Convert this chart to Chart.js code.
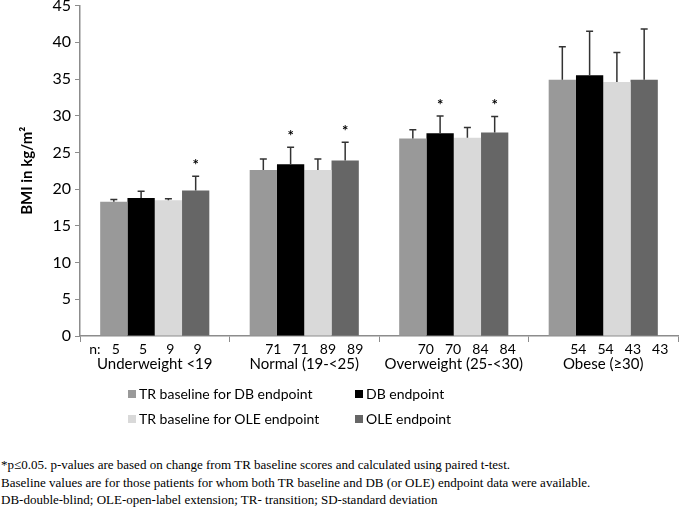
<!DOCTYPE html>
<html>
<head>
<meta charset="utf-8">
<script src="https://cdn.jsdelivr.net/npm/chart.js@4.4.0/dist/chart.umd.min.js"></script>
<style>
    body { margin: 0; background: #fff; }
    #wrap { position: relative; width: 685px; height: 514px; overflow: hidden; background: #fff; }
    #chart { position: absolute; left: 0; top: -8px; }
    .legend-item { position: absolute; font-family: Lato, "Open Sans", sans-serif; font-size: 14px; line-height: 16px; color: #000; white-space: nowrap; }
    .legend-item .box { display: inline-block; width: 8px; height: 8px; margin-right: 3px; vertical-align: 1px; }
    #notes { position: absolute; left: 1px; top: 456px; font-family: "Liberation Serif", "Times New Roman", serif; font-size: 13px; line-height: 17.5px; color: #000; white-space: nowrap; }
</style>
</head>
<body>
<div id="wrap">
    <canvas id="chart" width="685" height="394"></canvas>
    <div id="legend"></div>
    <div id="notes">
        *p&le;0.05. p-values are based on change from TR baseline scores and calculated using paired t-test.<br>
        Baseline values are for those patients for whom both TR baseline and DB (or OLE) endpoint data were available.<br>
        DB-double-blind; OLE-open-label extension; TR- transition; SD-standard deviation
    </div>
</div>
<script>
"use strict";

// BMI categories
var categories = ['Underweight <19', 'Normal (19-<25)', 'Overweight (25-<30)', 'Obese (\u226530)'];
var seriesNames = ['TR baseline for DB endpoint', 'DB endpoint', 'TR baseline for OLE endpoint', 'OLE endpoint'];
var seriesColors = ['#999999', '#000000', '#d9d9d9', '#666666'];

// mean BMI (kg/m2)
var trBaselineDb = [18.3, 22.6, 26.9, 34.9];
var dbEndpoint = [18.8, 23.4, 27.6, 35.5];
var trBaselineOle = [18.5, 22.6, 27.0, 34.6];
var oleEndpoint = [19.8, 23.9, 27.7, 34.9];

// SD (upper error bar only)
var sdTrBaselineDb = [0.3, 1.5, 1.2, 4.5];
var sdDbEndpoint = [0.9, 2.3, 2.35, 6.0];
var sdTrBaselineOle = [0.2, 1.5, 1.4, 4.0];
var sdOleEndpoint = [1.95, 2.5, 2.2, 6.9];

// patient counts
var nTrBaselineDb = [5, 71, 70, 54];
var nDbEndpoint = [5, 71, 70, 54];
var nTrBaselineOle = [9, 89, 84, 43];
var nOleEndpoint = [9, 89, 84, 43];

// p<=0.05 markers
var sigTrBaselineDb = [false, false, false, false];
var sigDbEndpoint = [false, true, true, false];
var sigTrBaselineOle = [false, false, false, false];
var sigOleEndpoint = [true, true, true, false];

var yTicks = [0, 5, 10, 15, 20, 25, 30, 35, 40, 45];

// the n: row in the original is typed text, drifting right a bit per group
var nShift = [2, 10, 13, 16];

var values = [trBaselineDb, dbEndpoint, trBaselineOle, oleEndpoint];
var sds = [sdTrBaselineDb, sdDbEndpoint, sdTrBaselineOle, sdOleEndpoint];
var counts = [nTrBaselineDb, nDbEndpoint, nTrBaselineOle, nOleEndpoint];
var sigs = [sigTrBaselineDb, sigDbEndpoint, sigTrBaselineOle, sigOleEndpoint];

var AXIS_COLOR = '#8c8c8c';

var errorBarPlugin = {
    id: 'errorBars',
    afterDatasetsDraw: function (chart) {
        var ctx = chart.ctx;
        var yScale = chart.scales.y;
        var bottom = chart.chartArea.bottom;
        ctx.save();
        chart.data.datasets.forEach(function (ds, i) {
            var meta = chart.getDatasetMeta(i);
            meta.data.forEach(function (bar, j) {
                var top = yScale.getPixelForValue(ds.data[j] + ds.sd[j]);
                ctx.strokeStyle = '#333333';
                ctx.lineWidth = 1.5;
                ctx.beginPath();
                ctx.moveTo(bar.x, bar.y);
                ctx.lineTo(bar.x, top);
                ctx.moveTo(bar.x - 3.5, top);
                ctx.lineTo(bar.x + 3.5, top);
                ctx.stroke();

                ctx.fillStyle = '#000';
                ctx.textAlign = 'center';
                ctx.textBaseline = 'middle';
                if (ds.sig[j]) {
                    ctx.font = 'bold 15px Lato, sans-serif';
                    ctx.fillText('*', bar.x, top - 11);
                }
                ctx.font = '14px Lato, sans-serif';
                ctx.fillText(String(ds.n[j]), bar.x + nShift[j], bottom + 13);
                if (i === 0 && j === 0) {
                    ctx.fillText('n:', bar.x - 19, bottom + 13);
                }
            });
        });
        ctx.restore();
    }
};

function buildLegend() {
    var el = document.getElementById('legend');
    var pos = [[128, 386], [355, 386], [128, 411], [355, 411]];
    seriesNames.forEach(function (name, i) {
        var item = document.createElement('div');
        item.className = 'legend-item';
        item.style.left = pos[i][0] + 'px';
        item.style.top = pos[i][1] + 'px';
        item.innerHTML = '<span class="box" style="background:' + seriesColors[i] + '"></span>' + name;
        el.appendChild(item);
    });
}

function renderChart() {
    var datasets = seriesNames.map(function (name, i) {
        return {
            label: name,
            data: values[i],
            sd: sds[i],
            n: counts[i],
            sig: sigs[i],
            backgroundColor: seriesColors[i],
            borderWidth: 0,
            categoryPercentage: 0.73,
            barPercentage: 1.0
        };
    });

    new Chart(document.getElementById('chart'), {
        type: 'bar',
        data: { labels: categories, datasets: datasets },
        plugins: [errorBarPlugin],
        options: {
            responsive: false,
            animation: false,
            layout: { padding: { top: 0, right: 7, bottom: 0, left: 0 } },
            plugins: {
                legend: { display: false },
                tooltip: { enabled: false }
            },
            scales: {
                x: {
                    grid: { display: true, drawOnChartArea: false, drawTicks: true, tickLength: 6, color: AXIS_COLOR, offset: true },
                    border: { color: AXIS_COLOR, width: 1.5 },
                    ticks: { color: '#000', font: { family: 'Lato', size: 15 }, padding: 13, maxRotation: 0 }
                },
                y: {
                    min: 0,
                    max: 45,
                    afterBuildTicks: function (scale) {
                        scale.ticks = yTicks.map(function (v) { return { value: v }; });
                    },
                    afterFit: function (scale) { scale.width = 80; },
                    grid: { display: true, drawOnChartArea: false, drawTicks: true, tickLength: 5, color: AXIS_COLOR },
                    border: { color: AXIS_COLOR, width: 1.5 },
                    ticks: { color: '#000', font: { family: 'Lato', size: 16 }, padding: 4 },
                    title: {
                        display: true,
                        text: 'BMI in kg/m\u00b2',
                        color: '#000',
                        font: { family: 'Lato', size: 15, weight: 'bold' },
                        padding: { top: 18, bottom: 0 }
                    }
                }
            }
        }
    });
}

buildLegend();
renderChart();
</script>
</body>
</html>
